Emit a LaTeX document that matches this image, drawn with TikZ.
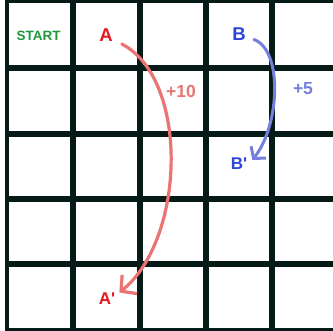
\documentclass[tikz,border=0pt]{standalone}
\usepackage{fontspec}
\setmainfont{Liberation Sans}
\usetikzlibrary{arrows.meta, positioning}
\definecolor{gridInk}{HTML}{061A18}
\definecolor{startGreen}{HTML}{1E9A3A}
\definecolor{pieceRed}{HTML}{E8141E}
\definecolor{pieceBlue}{HTML}{2E44D8}
\definecolor{arcRed}{HTML}{EA7474}
\definecolor{arcBlue}{HTML}{7480DB}
\tikzset{
  gridline/.style={draw=gridInk, line width=6pt},
  letter/.style={font=\fontsize{18.5}{20}\selectfont\bfseries, inner sep=2pt},
  primed/.style={font=\fontsize{17}{19}\selectfont\bfseries, inner sep=2pt},
  score/.style={font=\fontsize{17.5}{19}\selectfont\bfseries, inner sep=1pt},
  move/.style={line width=3.2pt, line cap=round, -{Straight Barb[length=11pt, width=24pt]}},
}

\begin{document}
\begin{tikzpicture}[x=1pt, y=-1pt]
\useasboundingbox (0,0) rectangle (333,331);
\fill[white] (0,0) rectangle (333,331);
% board
\begin{scope}
\clip (0,0) rectangle (333,331);
\foreach \x in {73,140,206,272}
  \draw[gridline] (\x,0) -- (\x,331);
\foreach \y in {0,68,134,199,264,331}
  \draw[gridline] (5,\y) -- (333,\y);
\draw[gridline, line width=4pt] (7,0) -- (7,331);
\end{scope}
% squares
\node[font=\fontsize{13.5}{15}\selectfont\bfseries, text=startGreen, inner sep=1pt] (start) at (38.5,36) {START};
\node[letter, text=pieceRed] (a) at (106,35) {A};
\node[letter, text=pieceBlue] (b) at (239,34.5) {B};
\node[primed, text=pieceRed] (aprime) at (107,298.5) {A\textquotesingle};
\node[primed, text=pieceBlue] (bprime) at (239,164) {B\textquotesingle};
\node[score, text=arcRed] (plusten) at (181,91) {+10};
\node[score, text=arcBlue] (plusfive) at (303,89) {+5};
% moves
\draw[move, draw=arcRed] ([shift={(7,9)}]a.east)
  .. controls (190,80) and (185,240) .. ([shift={(2,-6)}]aprime.east);
\draw[move, draw=arcBlue, line width=3pt, -{Straight Barb[length=8pt, width=19pt]}] ([shift={(6,5)}]b.east)
  .. controls (283,50) and (280,125) .. ([shift={(3,-4)}]bprime.east);
\end{tikzpicture}
\end{document}
